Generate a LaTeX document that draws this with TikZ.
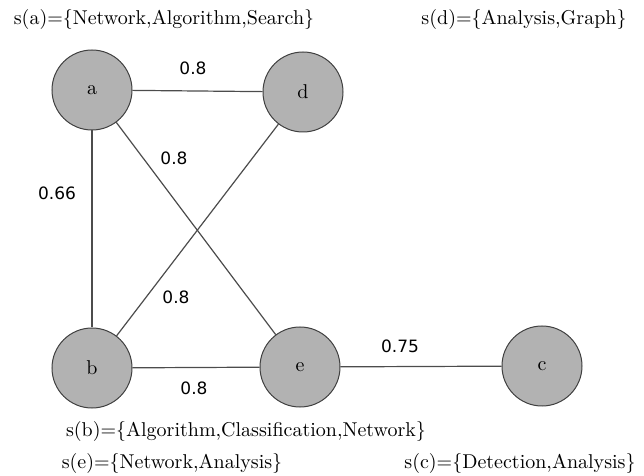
\documentclass[tikz,border=0pt]{standalone}
\usepackage{fontspec}
\newfontfamily\numfont{DejaVu Sans}
\usetikzlibrary{positioning}

\begin{document}
\begin{tikzpicture}[x=0.5pt, y=-0.5pt,
    vertex/.style={circle, draw=black!75, fill=black!30, minimum size=40pt, inner sep=0pt, line width=0.5pt},
    edge/.style={draw=black!70, line width=0.6pt},
    weight/.style={font=\numfont\fontsize{8.5}{10}\selectfont},
    setlabel/.style={font=\normalsize}]
    \useasboundingbox (0,0) rectangle (644,476);

    % Vertices
    \node[vertex] (a) at (92,90) {a};
    \node[vertex] (d) at (303,92) {d};
    \node[vertex] (b) at (92,368) {b};
    \node[vertex] (e) at (300,367) {e};
    \node[vertex] (c) at (542,366) {c};

    % Edges
    \draw[edge] (a) -- (d);
    \draw[edge] (a) -- (b);
    \draw[edge] (a) -- (e);
    \draw[edge] (d) -- (b);
    \draw[edge] (b) -- (e);
    \draw[edge] (e) -- (c);

    % Weights
    \node[weight] (wad) at (193,68) {0.8};
    \node[weight] (wab) at (57,193) {0.66};
    \node[weight] (wae) at (174,158) {0.8};
    \node[weight] (wdb) at (176,297) {0.8};
    \node[weight] (wbe) at (194,388) {0.8};
    \node[weight] (wec) at (400,346) {0.75};

    % Keyword sets
    \node[setlabel] (sa) at (164,20) {s(a)=\{Network,Algorithm,Search\}};
    \node[setlabel] (sd) at (524,20) {s(d)=\{Analysis,Graph\}};
    \node[setlabel] (sb) at (246,432) {s(b)=\{Algorithm,Classification,Network\}};
    \node[setlabel] (se) at (172,464) {s(e)=\{Network,Analysis\}};
    \node[setlabel] (sc) at (520,464) {s(c)=\{Detection,Analysis\}};
\end{tikzpicture}
\end{document}
